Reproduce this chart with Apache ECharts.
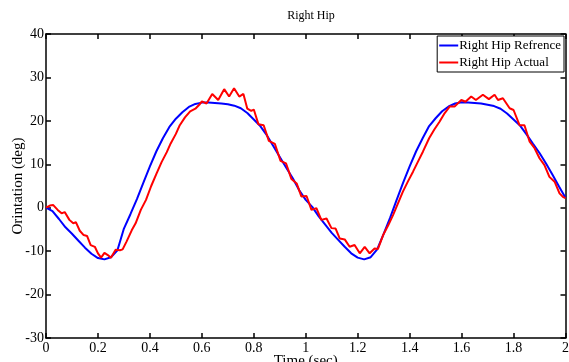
<!DOCTYPE html>
<html>
<head>
<meta charset="utf-8">
<script src="https://cdn.jsdelivr.net/npm/echarts@6/dist/echarts.min.js"></script>
<style>
  html, body { margin: 0; padding: 0; background: #fff; }
  #chart { width: 569px; height: 362px; }
</style>
</head>
<body>
<div id="chart"></div>
<script>
// time (sec) and orientation (deg)
var refT = [0, 0.025, 0.05, 0.075, 0.1, 0.125, 0.15, 0.175, 0.2, 0.225, 0.25, 0.275, 0.3, 0.325, 0.35, 0.375,
  0.4, 0.425, 0.45, 0.475, 0.5, 0.525, 0.55, 0.575, 0.6, 0.625, 0.65, 0.675, 0.7, 0.725, 0.75, 0.775,
  0.8, 0.825, 0.85, 0.875, 0.9, 0.925, 0.95, 0.975, 1, 1.025, 1.05, 1.075, 1.1, 1.125, 1.15, 1.175,
  1.2, 1.225, 1.25, 1.275, 1.3, 1.325, 1.35, 1.375, 1.4, 1.425, 1.45, 1.475, 1.5, 1.525, 1.55, 1.575,
  1.6, 1.625, 1.65, 1.675, 1.7, 1.725, 1.75, 1.775, 1.8, 1.825, 1.85, 1.875, 1.9, 1.925, 1.95, 1.975, 2];
var refV = [0, -0.8, -2.6, -4.5, -6.0, -7.6, -9.2, -10.6, -11.6, -11.9, -11.4, -9.8, -4.8, -1.5, 2.0, 5.8,
  9.5, 13.0, 16.0, 18.6, 20.5, 22.0, 23.2, 23.9, 24.2, 24.2, 24.1, 24.0, 23.8, 23.5, 22.9, 21.8,
  20.3, 18.8, 16.7, 14.2, 11.7, 9.2, 6.8, 4.0, 1.8, 0.2, -2.0, -3.9, -5.8, -7.4, -9.0, -10.5,
  -11.5, -11.9, -11.4, -9.6, -6.0, -2.3, 1.8, 5.8, 9.5, 13.0, 16.0, 18.8, 20.6, 22.2, 23.3, 24.0,
  24.3, 24.2, 24.1, 24.0, 23.7, 23.4, 22.8, 21.7, 20.3, 18.9, 16.9, 14.7, 12.6, 10.2, 7.6, 4.9, 2.3];

var actT = [0, 0.015, 0.028, 0.045, 0.06, 0.072, 0.09, 0.105, 0.115, 0.13, 0.145, 0.158, 0.172, 0.188,
  0.2, 0.212, 0.225, 0.238, 0.25, 0.268, 0.285, 0.295, 0.31, 0.33, 0.345, 0.365, 0.385, 0.405, 0.425,
  0.445, 0.465, 0.48, 0.5, 0.515, 0.535, 0.555, 0.575, 0.59, 0.6, 0.618, 0.64, 0.663, 0.686, 0.705,
  0.724, 0.744, 0.76, 0.775, 0.79, 0.8, 0.818, 0.838, 0.858, 0.881, 0.903, 0.924, 0.945, 0.965, 0.983,
  1.003, 1.022, 1.041, 1.06, 1.08, 1.099, 1.115, 1.131, 1.15, 1.169, 1.188, 1.208, 1.227, 1.246, 1.265,
  1.278, 1.298, 1.318, 1.336, 1.355, 1.374, 1.393, 1.413, 1.432, 1.451, 1.475, 1.495, 1.515, 1.535,
  1.554, 1.573, 1.599, 1.615, 1.637, 1.655, 1.682, 1.705, 1.727, 1.74, 1.759, 1.785, 1.8, 1.823, 1.842,
  1.862, 1.881, 1.9, 1.919, 1.938, 1.958, 1.977, 1.99, 2];
var actV = [0, 0.5, 0.6, -0.5, -1.3, -1.0, -2.8, -3.6, -3.3, -5.3, -6.3, -6.5, -8.6, -9.0,
  -10.5, -11.5, -10.4, -10.9, -11.5, -9.7, -9.8, -9.6, -7.8, -5.2, -3.6, -0.5, 1.8, 5.0, 7.8,
  10.5, 12.8, 14.8, 17.0, 19.0, 20.8, 22.2, 22.8, 23.7, 24.5, 24.0, 26.2, 24.8, 27.3, 25.6,
  27.5, 25.6, 26.2, 22.8, 22.3, 22.6, 19.2, 19.0, 15.4, 14.7, 10.8, 10.2, 6.6, 5.6, 2.6,
  2.7, -0.5, -0.1, -2.8, -2.5, -4.7, -4.8, -7.1, -7.3, -9.0, -8.6, -10.5, -9.0, -10.5, -9.4,
  -9.5, -6.3, -4.0, -1.7, 1.0, 3.7, 6.0, 8.3, 10.6, 12.9, 16.0, 18.0, 19.8, 21.8,
  23.3, 23.3, 24.8, 24.4, 25.6, 24.8, 26.0, 25.0, 26.0, 24.8, 25.2, 22.9, 22.5, 19.0, 19.0,
  15.2, 13.7, 11.4, 9.8, 7.1, 6.0, 3.3, 2.5, 2.2];

var seriesNames = ['Right Hip Refrence', 'Right Hip Actual'];

function pairs(t, v) {
  return t.map(function (x, i) { return [x, v[i]]; });
}

var serif = 'Liberation Serif';
var myChart = echarts.init(document.getElementById('chart'));

var boxAxis = {
  axisLine: { show: true, onZero: false, lineStyle: { color: '#000', width: 1.5 } },
  axisTick: { show: true, inside: true, length: 5, lineStyle: { color: '#000', width: 1.5 } },
  splitLine: { show: false }
};

var option = {
  animation: false,
  backgroundColor: '#fff',
  title: {
    text: 'Right Hip',
    left: 306, top: 5, textAlign: 'center',
    textStyle: { fontFamily: serif, fontSize: 12, fontWeight: 'normal', color: '#000' }
  },
  legend: {
    data: seriesNames,
    orient: 'vertical',
    right: 5, top: 36,
    backgroundColor: '#fff',
    borderColor: '#000', borderWidth: 1,
    padding: [3, 3, 3, 2],
    itemGap: 4,
    itemWidth: 19, itemHeight: 2,
    icon: 'rect',
    textStyle: { fontFamily: serif, fontSize: 13, color: '#000', padding: [0, 0, 0, -4] }
  },
  grid: { left: 46, right: 3.5, top: 34, bottom: 24, containLabel: false, outerBoundsMode: 'none' },
  xAxis: [
    Object.assign({
      type: 'value', min: 0, max: 2, interval: 0.2, position: 'bottom',
      name: 'Time (sec)', nameLocation: 'middle', nameGap: 16, nameMoveOverlap: false,
      nameTextStyle: { fontFamily: serif, fontSize: 15, color: '#000' },
      axisLabel: { fontFamily: serif, fontSize: 14, color: '#000', margin: 3 }
    }, boxAxis),
    Object.assign({
      type: 'value', min: 0, max: 2, interval: 0.2, position: 'top',
      axisLabel: { show: false }
    }, boxAxis)
  ],
  yAxis: [
    Object.assign({
      type: 'value', min: -30, max: 40, interval: 10, position: 'left',
      name: 'Orintation (deg)', nameLocation: 'middle', nameGap: 20, nameMoveOverlap: false,
      nameTextStyle: { fontFamily: serif, fontSize: 15, color: '#000' },
      axisLabel: { fontFamily: serif, fontSize: 14, color: '#000', margin: 2 }
    }, boxAxis),
    Object.assign({
      type: 'value', min: -30, max: 40, interval: 10, position: 'right',
      axisLabel: { show: false }
    }, boxAxis)
  ],
  series: [
    {
      name: seriesNames[0], type: 'line', data: pairs(refT, refV),
      showSymbol: false, symbol: 'none',
      itemStyle: { color: '#0000ff' },
      lineStyle: { color: '#0000ff', width: 2 }
    },
    {
      name: seriesNames[1], type: 'line', data: pairs(actT, actV),
      showSymbol: false, symbol: 'none',
      itemStyle: { color: '#ff0000' },
      lineStyle: { color: '#ff0000', width: 2 }
    }
  ]
};

myChart.setOption(option);
</script>
</body>
</html>
